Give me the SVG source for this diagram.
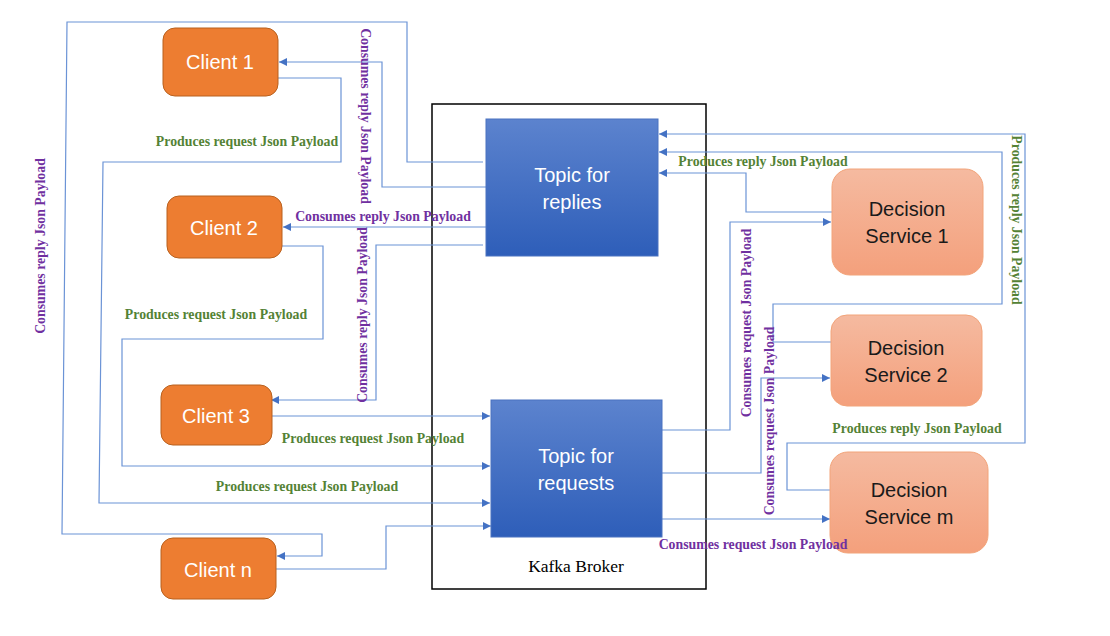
<svg xmlns="http://www.w3.org/2000/svg" width="1110" height="636" viewBox="0 0 1110 636">
<defs>
<linearGradient id="gTopic" x1="0" y1="0" x2="0" y2="1"><stop offset="0" stop-color="#5C83CE"/><stop offset="1" stop-color="#2E5EB9"/></linearGradient>
<linearGradient id="gDs" x1="0" y1="0" x2="0" y2="1"><stop offset="0" stop-color="#F5BAA0"/><stop offset="1" stop-color="#F4A07C"/></linearGradient>
<marker id="arr" viewBox="0 0 10 10" refX="10" refY="5" markerWidth="9" markerHeight="8" markerUnits="userSpaceOnUse" orient="auto"><path d="M0,0 L10,5 L0,10 z" fill="#4472C4"/></marker>
<style>
.ln{fill:none;stroke:#6B93D6;stroke-width:1.2}
.ar{marker-end:url(#arr)}
.client rect{fill:#ED7D31;stroke:#B8611F;stroke-width:1}
.client text{fill:#fff;font-family:"Liberation Sans",Arial,sans-serif;font-size:20px;text-anchor:middle}
.topic rect{fill:url(#gTopic);stroke:#4A72C0;stroke-width:1}
.topic text{fill:#fff;font-family:"Liberation Sans",Arial,sans-serif;font-size:20px;text-anchor:middle}
.ds rect{fill:url(#gDs);stroke:#F2A47A;stroke-width:1}
.ds text{fill:#1a1a1a;font-family:"Liberation Sans",Arial,sans-serif;font-size:20px;text-anchor:middle}
.lbl{font-family:"Liberation Serif","Times New Roman",serif;font-weight:bold;font-size:13.8px;text-anchor:middle}
.g{fill:#548235}
.p{fill:#7030A0}
</style>
</defs>
<rect width="1110" height="636" fill="#fff"/>

<g id="broker">
<rect x="432" y="104" width="274" height="485" fill="none" stroke="#000" stroke-width="1.5"/>
<text x="576" y="572" font-family="'Liberation Serif','Times New Roman',serif" font-size="17.5" text-anchor="middle" fill="#000">Kafka Broker</text>
</g>

<g id="connectors">
<polyline class="ln ar" points="483,162 407,162 407,22 67,22 62,534 322,534 322,556 277,556"/>
<polyline class="ln ar" points="486,187 382,187 382,62 279,62"/>
<polyline class="ln ar" points="278,78 341,78 341,162 103,162 99,503 490,503"/>
<polyline class="ln ar" points="486,227 283,227"/>
<polyline class="ln ar" points="483,245 376,245 376,400 271,400"/>
<polyline class="ln ar" points="282,246 323,246 323,339 122,339 122,466 490,466"/>
<polyline class="ln ar" points="272,416 490,416"/>
<polyline class="ln ar" points="276,569 386,569 386,526 491,526"/>
<polyline class="ln ar" points="832,212 746,212 746,173 659,173"/>
<polyline class="ln ar" points="831,342 773,342 773,304 1002,304 1002,152 659,152"/>
<polyline class="ln ar" points="830,490 787,490 787,443 1025,443 1025,134 659,134"/>
<polyline class="ln ar" points="622,430 730,430 730,222 831,222"/>
<polyline class="ln ar" points="662,473 761,473 761,378 830,378"/>
<polyline class="ln ar" points="662,519 830,519"/>
</g>

<g id="client1" class="client"><rect x="163" y="28" width="115" height="68" rx="12"/><text x="220" y="69">Client 1</text></g>
<g id="client2" class="client"><rect x="167" y="196" width="115" height="62" rx="12"/><text x="224" y="235">Client 2</text></g>
<g id="client3" class="client"><rect x="161" y="385" width="111" height="60" rx="12"/><text x="216" y="423">Client 3</text></g>
<g id="clientn" class="client"><rect x="161" y="538" width="115" height="61" rx="12"/><text x="218" y="577">Client n</text></g>

<g id="topic-replies" class="topic"><rect x="486" y="119" width="172" height="137"/><text x="572" y="182">Topic for</text><text x="572" y="209">replies</text></g>
<g id="topic-requests" class="topic"><rect x="491" y="400" width="171" height="137"/><text x="576" y="463">Topic for</text><text x="576" y="490">requests</text></g>

<g id="ds1" class="ds"><rect x="832" y="169" width="151" height="106" rx="18"/><text x="907" y="216">Decision</text><text x="907" y="243">Service 1</text></g>
<g id="ds2" class="ds"><rect x="831" y="315" width="151" height="91" rx="16"/><text x="906" y="355">Decision</text><text x="906" y="382">Service 2</text></g>
<g id="dsm" class="ds"><rect x="830" y="452" width="158" height="101" rx="18"/><text x="909" y="497">Decision</text><text x="909" y="524">Service m</text></g>

<g id="labels">
<text class="lbl p" transform="translate(40,246) rotate(-90)" dy="4.8">Consumes reply Json Payload</text>
<text class="lbl p" transform="translate(366,116) rotate(90)" dy="4.8">Consumes reply Json Payload</text>
<text class="lbl g" x="247" y="146">Produces request Json Payload</text>
<text class="lbl p" x="383" y="221">Consumes reply Json Payload</text>
<text class="lbl p" transform="translate(362,315) rotate(-90)" dy="4.8">Consumes reply Json Payload</text>
<text class="lbl g" x="216" y="319">Produces request Json Payload</text>
<text class="lbl g" x="373" y="443">Produces request Json Payload</text>
<text class="lbl g" x="307" y="491">Produces request Json Payload</text>
<text class="lbl g" x="763" y="166">Produces reply Json Payload</text>
<text class="lbl g" transform="translate(1017,220) rotate(90)" dy="4.8">Produces reply Json Payload</text>
<text class="lbl g" x="917" y="433">Produces reply Json Payload</text>
<text class="lbl p" transform="translate(746,323) rotate(-90)" dy="4.8">Consumes request Json Payload</text>
<text class="lbl p" transform="translate(769,421) rotate(-90)" dy="4.8">Consumes request Json Payload</text>
<text class="lbl p" x="753" y="549">Consumes request Json Payload</text>
</g>
</svg>
